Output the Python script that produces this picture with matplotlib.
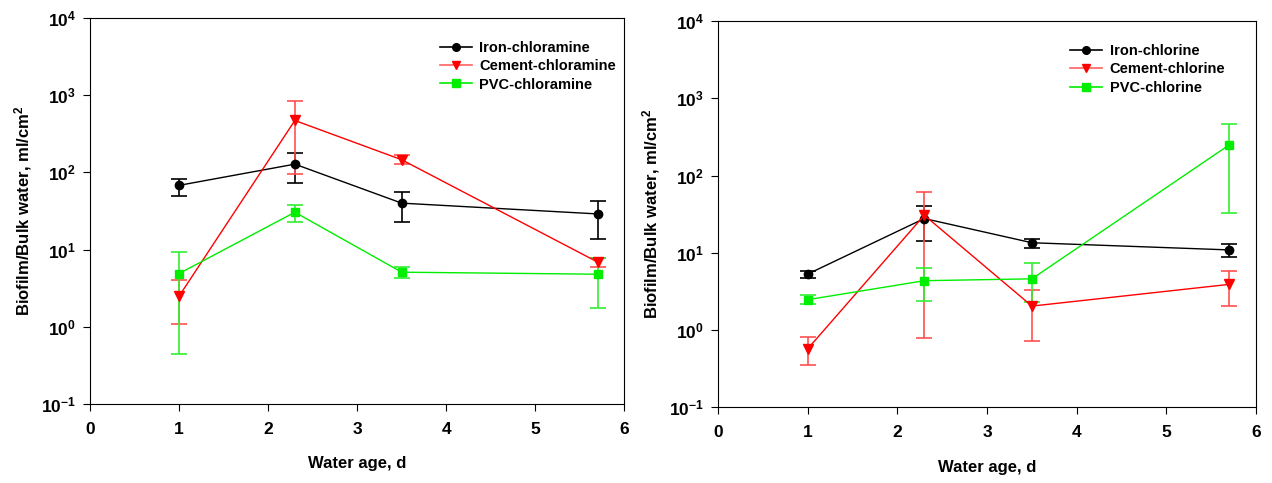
import numpy as np
import matplotlib
matplotlib.use('Agg')
import matplotlib.pyplot as plt
from matplotlib.lines import Line2D

plt.rcParams['font.family'] = ['Liberation Sans', 'DejaVu Sans']
plt.rcParams['font.weight'] = 'bold'
plt.rcParams['mathtext.fontset'] = 'custom'
plt.rcParams['mathtext.rm'] = 'Liberation Sans:bold'
plt.rcParams['mathtext.bf'] = 'Liberation Sans:bold'
plt.rcParams['mathtext.it'] = 'Liberation Sans:bold'
plt.rcParams['axes.unicode_minus'] = False

# water age (d)
age = [1, 2.3, 3.5, 5.7]

# chloramine panel: mean, lower, upper
iron_cm = [68, 128, 40, 29]
iron_cm_lo = [50, 73, 23, 13.6]
iron_cm_hi = [83, 181, 55, 43]
cement_cm = [2.5, 471, 146, 6.9]
cement_cm_lo = [1.1, 95, 129, 6.0]
cement_cm_hi = [4.0, 847, 166, 7.9]
pvc_cm = [4.9, 30.5, 5.1, 4.8]
pvc_cm_lo = [0.45, 22.7, 4.35, 1.74]
pvc_cm_hi = [9.4, 37.7, 5.9, 7.9]

# chlorine panel
iron_cl = [5.3, 27.8, 13.5, 10.9]
iron_cl_lo = [4.7, 14.3, 11.5, 8.7]
iron_cl_hi = [5.85, 40, 15.2, 12.9]
cement_cl = [0.57, 30.7, 2.04, 3.9]
cement_cl_lo = [0.35, 0.78, 0.73, 2.04]
cement_cl_hi = [0.80, 61.5, 3.26, 5.85]
pvc_cl = [2.47, 4.35, 4.6, 250]
pvc_cl_lo = [2.17, 2.37, 2.3, 32.6]
pvc_cl_hi = [2.8, 6.3, 7.3, 466]


def err(v, lo, hi):
    v = np.array(v); lo = np.array(lo); hi = np.array(hi)
    return [v - lo, hi - v]


def panel(ax, series, names):
    styles = [('black', 'o', 6), ('red', 'v', 6.5), ('#00ee00', 's', 6)]
    ecols = ['black', '#ff5050', '#33ee33']
    lcols = ['black', '#ff6060', '#00ee00']
    handles = []
    for (v, lo, hi), name, (c, m, ms), ec, lc in zip(series, names, styles, ecols, lcols):
        ax.errorbar(age, v, yerr=err(v, lo, hi), color=c, marker=m, ms=ms,
                    lw=1, ecolor=ec, elinewidth=1.2, capsize=6, capthick=1.2)
        handles.append(Line2D([], [], color=lc, lw=1.2, marker=m, ms=ms - 0.5,
                              mfc=c, mec=c, label=name))
    ax.set_yscale('log')
    ax.set_ylim(0.1, 1e4)
    ax.set_xlim(0, 6)
    ax.set_xticks(range(7))
    ax.minorticks_off()
    ax.tick_params(direction='out', length=5, labelsize=12.5)
    ax.tick_params(axis='x', pad=8)
    ax.tick_params(axis='y', pad=5)
    ax.set_xlabel('Water age, d', fontsize=12, fontweight='bold', labelpad=14)
    ax.set_ylabel('Biofilm/Bulk water, ml/cm$^2$', fontsize=12, fontweight='bold',
                  labelpad=5)
    leg = ax.legend(handles=handles, loc='upper left', bbox_to_anchor=(0.63, 0.975),
                    frameon=False, fontsize=10.5, handlelength=2.2, labelspacing=0.3,
                    handletextpad=0.5)
    for t in leg.get_texts():
        t.set_fontweight('bold')


fig = plt.figure(figsize=(12.72, 4.83), dpi=100)
ax1 = fig.add_axes([0.0708, 0.1636, 0.42, 0.799])
ax2 = fig.add_axes([0.5645, 0.157, 0.423, 0.799])

panel(ax1, [(iron_cm, iron_cm_lo, iron_cm_hi), (cement_cm, cement_cm_lo, cement_cm_hi),
            (pvc_cm, pvc_cm_lo, pvc_cm_hi)],
      ['Iron-chloramine', 'Cement-chloramine', 'PVC-chloramine'])
panel(ax2, [(iron_cl, iron_cl_lo, iron_cl_hi), (cement_cl, cement_cl_lo, cement_cl_hi),
            (pvc_cl, pvc_cl_lo, pvc_cl_hi)],
      ['Iron-chlorine', 'Cement-chlorine', 'PVC-chlorine'])

fig.savefig('out.png', dpi=100)
